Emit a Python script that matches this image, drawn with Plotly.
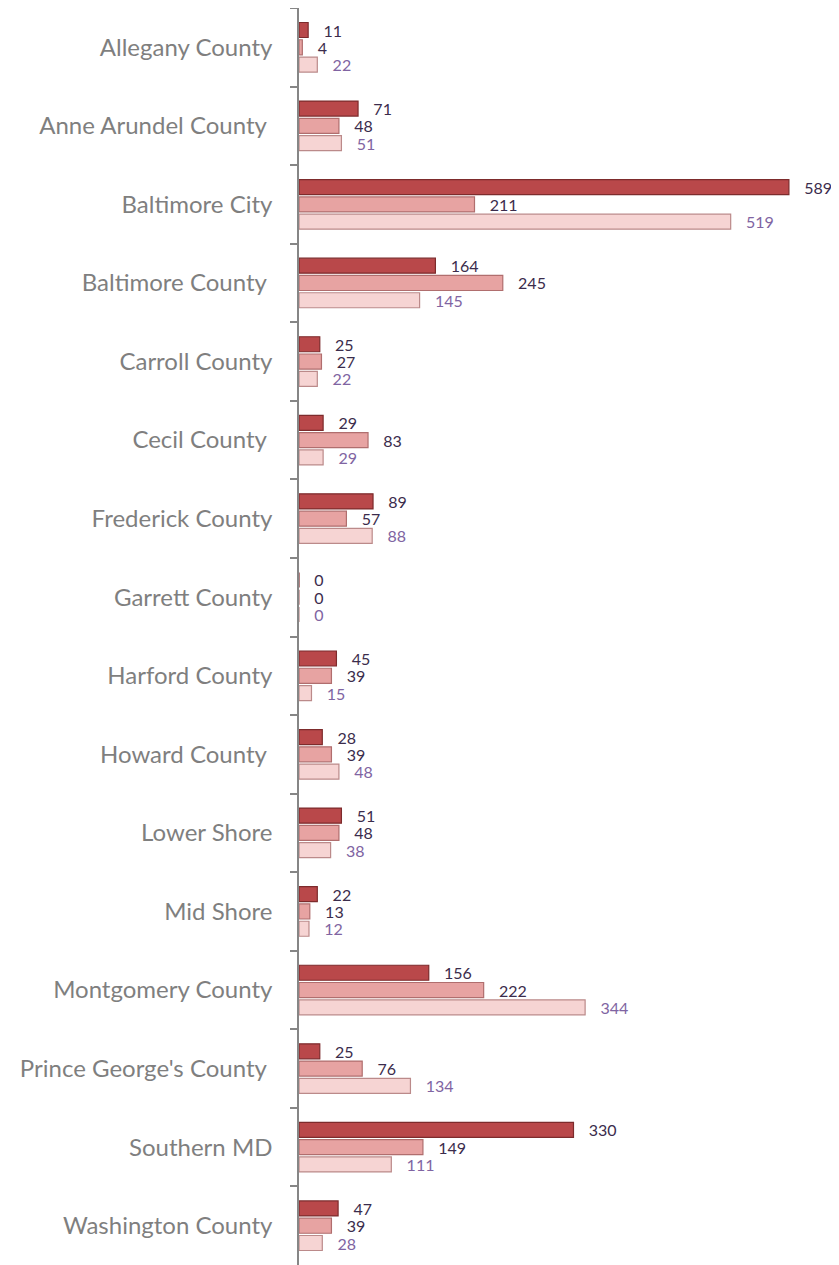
import plotly.graph_objects as go

categories = ["Allegany County", "Anne Arundel County\u00a0", "Baltimore City", "Baltimore County\u00a0",
              "Carroll County", "Cecil County\u00a0", "Frederick County", "Garrett County",
              "Harford County", "Howard County\u00a0", "Lower Shore", "Mid Shore",
              "Montgomery County", "Prince George's County\u00a0", "Southern MD", "Washington County"]
series1 = [11, 71, 589, 164, 25, 29, 89, 0, 45, 28, 51, 22, 156, 25, 330, 47]
series2 = [4, 48, 211, 245, 27, 83, 57, 0, 39, 39, 48, 13, 222, 76, 149, 39]
series3 = [22, 51, 519, 145, 22, 29, 88, 0, 15, 48, 38, 12, 344, 134, 111, 28]

series = [
    ("Series 1", series1, "#b9484a", "#7d2b2c", "#3b2c4c"),
    ("Series 2", series2, "#e7a3a2", "#b06e6e", "#3b2c4c"),
    ("Series 3", series3, "#f6d4d3", "#bb8a8a", "#8064a2"),
]

fig = go.Figure()
for name, vals, fill, line, tcol in series:
    fig.add_trace(go.Bar(
        y=categories, x=vals, name=name, orientation="h",
        marker=dict(color=fill, line=dict(color=line, width=1.2)),
        text=vals,
        texttemplate="\u00a0\u00a0\u00a0%{x}",
        textposition="outside",
        constraintext="none",
        textfont=dict(family="Lato", size=16, color=tcol),
        cliponaxis=False,
    ))

# The page body has an 8px default margin, so the figure is sized 8px smaller.
fig.update_layout(
    width=831, height=1257,
    margin=dict(l=291, r=16, t=0, b=0, autoexpand=False),
    barmode="group", bargap=0.34, bargroupgap=0.13,
    plot_bgcolor="white", paper_bgcolor="white",
    showlegend=False,
    font=dict(family="Lato"),
)
fig.update_xaxes(range=[0, 630], visible=False, showgrid=False, zeroline=False, automargin=False)
fig.update_yaxes(
    autorange="reversed", showline=True, linecolor="#868686", linewidth=1.5,
    ticks="outside", tickson="boundaries", ticklen=7, tickcolor="#868686", tickwidth=1.5,
    ticklabelstandoff=20, automargin=False,
    tickfont=dict(family="Lato", size=24, color="#7f7f7f"),
    showgrid=False,
)

fig.write_html("out.html")
